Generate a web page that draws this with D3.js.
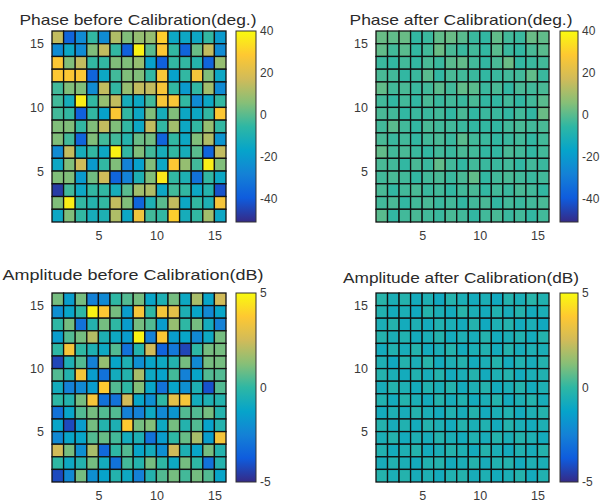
<!DOCTYPE html>
<html>
<head>
<meta charset="utf-8">
<script src="https://cdn.jsdelivr.net/npm/d3@7"></script>
<style>
  body { margin: 0; background: #fff; }
  text { font-family: "Liberation Sans", Arial, sans-serif; }
</style>
</head>
<body>
<div id="viz"></div>
<script>
var width = 610;
var height = 504;

// grid axis ticks (pcolor: 16x16 grid -> 15x15 visible cells)
var gridTicks = [5, 10, 15];
var phaseTicks = [-40, -20, 0, 20, 40];
var ampTicks = [-5, 0, 5];
var phaseRange = [-51, 40];
var ampRange = [-5, 5];

var titles = [
  'Phase before Calibration(deg.)',
  'Phase after Calibration(deg.)',
  'Amplitude before Calibration(dB)',
  'Amplitude after Calibration(dB)'
];

// rows listed from the top (y = 15) down to y = 1
var phaseBefore = [
  [15, -37, -25, -5, -25, 12, 5, 8, 8, 30, -15, -15, -15, -5, -20],
  [-25, -15, -25, 5, 15, -5, -38, 38, 0, 28, -5, -37, 2, 15, -25],
  [28, 5, 15, -5, -5, 5, 5, 8, -18, -38, -5, -5, -8, -37, 8],
  [28, 28, 28, -37, -15, -3, 5, 5, -5, 27, -18, -5, 26, 5, -15],
  [-3, 5, 5, -25, 15, -5, 8, 15, 15, 27, -5, -20, -5, 10, -25],
  [-3, -12, 37, -5, 8, 15, -12, -15, -3, 27, 27, -5, -25, -15, -5],
  [-3, -5, -38, -5, -18, 28, -5, -15, 5, -12, 5, -15, -15, -5, 28],
  [5, 5, -5, 5, 15, 5, -5, -15, 15, -5, 10, -15, -5, 8, -5],
  [5, -3, -37, 5, -3, -3, -8, 2, 3, -37, -5, -15, 5, 12, -22],
  [-25, 15, -12, -5, -15, 38, -5, 5, -3, -12, -5, -12, 0, -37, 15],
  [-15, 5, 17, -20, -5, 5, -28, -18, 5, -15, 28, 8, -3, 37, 5],
  [5, 5, -20, 3, 17, -37, -28, -10, 5, 36, -5, -10, -33, -5, -15],
  [-47, -3, -15, -5, -5, -12, 0, 10, 12, -15, -3, -5, -15, -8, -42],
  [5, 37, -5, -8, -5, 15, 5, -37, -10, 0, 15, -15, -5, -10, 26],
  [-15, 5, -5, -12, -10, 12, -15, 25, -3, -5, 30, -12, -5, 10, -15]
];

var phaseAfter = [
  [2, 1, 2, -5, -4, 1, 2, 0, -4, -5, 1, -3, -4, 2, 1],
  [1, -3, 0, -5, -3, 2, -2, -4, -3, -5, 0, -4, -5, -2, 0],
  [-4, -5, -3, -5, -2, -4, 0, 1, -3, -5, -2, 2, -5, -4, -3],
  [-2, -3, -5, -4, 0, -5, -2, -3, -4, -5, -4, -3, -3, 1, -4],
  [1, -3, -2, -4, -3, 0, -3, 1, 0, -4, -2, -5, -2, -3, -2],
  [-3, -5, -3, -5, -2, -4, -3, -4, -2, -5, -5, -3, -5, -3, 0],
  [-2, -3, -5, -4, -4, -3, -5, -2, -5, -4, -4, -5, -3, -5, 2],
  [-3, 0, -3, -5, -2, -3, -3, -4, -5, -5, -5, -3, -2, -3, -2],
  [-2, -4, -3, -5, -3, -2, -4, 0, -3, -4, -5, -4, -3, -5, -3],
  [1, -3, -2, -4, -5, -3, -4, -2, -3, -5, -5, -2, -3, -5, -3],
  [-2, -3, -5, -2, -4, 1, -3, -5, -3, -4, -4, -3, -5, -3, -4],
  [-3, -2, -3, -5, -3, -2, -4, -2, 1, -5, -3, -2, -3, -4, -3],
  [-2, -5, -3, -2, -4, -3, -5, -3, -2, -5, -3, -4, -2, -3, -5],
  [-3, -2, -5, -3, -2, -4, -3, -5, -3, -2, -5, -3, -4, -3, -2],
  [0, -5, -3, -2, -3, -4, -2, -3, -5, -3, -2, -4, -3, -5, -3]
];

var ampBefore = [
  [1, -1.5, 1, -2.5, -2.2, 0, 0.5, 1, -1.2, -0.5, 1, -1, 1.8, -1.2, 2.5],
  [-2, -1.2, 0, 4.8, 3.7, 1, -1.5, 3.5, 0, 3.5, 3, -0.5, -1.2, -2.2, -1.2],
  [0, 1, -3, -0.3, 1, 0, -1.5, 1, 0.5, -1.5, 1.5, 0, 1, -0.8, -2.5],
  [-1.5, 0.5, 1, 2, -0.5, -1, -1.5, 4.8, -2.5, 3.7, -1.5, -1.2, -2.2, -1, 1],
  [0, 3.5, 0, -0.5, -1, 0.5, -3, -0.3, 2.5, -3.5, -2.8, -4.3, 0, 1, 1],
  [-4.3, -0.5, 0.5, -2.5, 1.5, -1.2, -0.5, -2, -1.2, -1, -0.3, 1, -2.2, 1, 1],
  [0.5, -0.3, 3.5, -1.5, -3, -0.8, -0.3, 1.8, -1, -1.3, 0.3, -2.5, -1.2, 0.5, 0.5],
  [-0.8, -2.5, -2.2, -1.5, 3.8, 0.5, 0, 1.2, -1.2, -3, -1.2, -2, -0.5, -4, 0.5],
  [0, -0.3, 1, 3.5, -3, -3, 2.5, -1.2, -2, 0, 3, 3.5, -0.8, -0.5, -0.3],
  [-3, -1.2, 0.5, 1, 0.5, 0.5, -2.5, -2.5, -1, -2.2, -1.8, 0.5, 0.5, 1, -0.3],
  [-1.2, -4.2, -1.5, 1, -0.3, -0.5, 3.8, 1, 1.2, -1, 1, -0.3, 0.5, -1.3, -0.3],
  [-2.2, -1.2, -1.2, 0.5, 0.8, 0.3, -0.8, -0.5, -3, -1.5, 0, 0.8, 1.8, -1.5, 3.5],
  [2.5, 1, -2, 1.8, -3.3, 0, 0.5, -1.2, -0.8, -2, 2.5, -0.5, -1.2, 1, -0.3],
  [0, -1, -0.3, 1, -0.8, -3, 0.3, -0.3, 1, 0, -1, 1, 0, -3, -0.3],
  [-4.2, -2.2, 1, -2, -1.3, -0.3, -1, -2.5, -0.3, 0.5, 1, 0.3, 1, 0.5, -1.2]
];

var ampAfter = [
  [-0.2, -0.6, -0.3, -0.8, -0.5, -0.9, -0.3, -0.6, -0.8, -0.6, -0.9, -0.3, -0.6, -0.2, -0.4],
  [-0.4, -0.8, -0.6, -0.9, -0.3, -0.6, -0.8, -0.2, -0.6, -0.8, -0.4, -0.7, -0.3, -0.8, -0.6],
  [-0.6, -0.3, -0.8, -0.5, -0.8, -0.4, -0.6, -0.8, -0.3, -0.9, -0.5, -0.3, -0.8, -0.6, -0.9],
  [-0.3, -0.6, -0.4, -0.8, -0.6, -0.3, -0.8, -0.5, -0.7, -0.3, -0.8, -0.6, -0.4, -0.8, -0.3],
  [-0.8, -0.4, -0.7, -0.3, -0.8, -0.6, -0.3, -0.8, -0.6, -0.4, -0.8, -0.3, -0.7, -0.5, -0.6],
  [-0.5, -0.9, -0.3, -0.6, -0.2, -0.8, -0.5, -0.3, -0.8, -0.6, -0.3, -0.8, -0.4, -0.7, -0.3],
  [-0.3, -0.6, -0.8, -0.4, -0.7, -0.3, -0.8, -0.6, -0.3, -0.8, -0.5, -0.3, -0.8, -0.6, -0.4],
  [-0.7, -0.3, -0.5, -0.8, -0.4, -0.6, -0.3, -0.8, -0.5, -0.3, -0.8, -0.6, -0.3, -0.8, -0.5],
  [-0.4, -0.8, -0.3, -0.6, -0.8, -0.3, -0.7, -0.4, -0.8, -0.6, -0.3, -0.8, -0.5, -0.3, -0.7],
  [-0.8, -0.5, -0.7, -0.3, -0.6, -0.8, -0.4, -0.7, -0.3, -0.8, -0.6, -0.4, -0.8, -0.5, -0.3],
  [-0.3, -0.7, -0.4, -0.8, -0.3, -0.5, -0.8, -0.3, -0.6, -0.4, -0.8, -0.3, -0.6, -0.8, -0.5],
  [-0.6, -0.3, -0.8, -0.5, -0.7, -0.3, -0.6, -0.8, -0.4, -0.7, -0.3, -0.6, -0.3, -0.5, -0.8],
  [-0.4, -0.8, -0.5, -0.3, -0.8, -0.6, -0.3, -0.5, -0.8, -0.3, -0.6, -0.8, -0.4, -0.7, -0.3],
  [-0.7, -0.4, -0.6, -0.8, -0.4, -0.3, -0.8, -0.6, -0.3, -0.7, -0.4, -0.3, -0.8, -0.5, -0.6],
  [-0.3, -0.6, -0.3, -0.7, -0.5, -0.8, -0.4, -0.3, -0.7, -0.5, -0.8, -0.6, -0.3, -0.8, -0.4]
];

// parula colormap stops
var parula = ['#352a87', '#0f5cdd', '#1481d6', '#06a4ca', '#2eb7a4', '#87bf77', '#d1bb59', '#fec832', '#f9fb0e'];

var svg = d3.select('#viz').append('svg')
  .attr('width', width)
  .attr('height', height)
  .style('background', '#fff');

var defs = svg.append('defs');

var panels = [
  {title: titles[0], data: phaseBefore, range: phaseRange, cticks: phaseTicks,
   x0: 52, x1: 226, y0: 31, y1: 222, cb: 236, cbw: 20, tx: 138, ty: 25, tw: 237},
  {title: titles[1], data: phaseAfter, range: phaseRange, cticks: phaseTicks,
   x0: 376, x1: 549, y0: 31, y1: 222, cb: 560, cbw: 18, tx: 461, ty: 25, tw: 223},
  {title: titles[2], data: ampBefore, range: ampRange, cticks: ampTicks,
   x0: 52, x1: 226, y0: 293, y1: 482, cb: 236, cbw: 20, tx: 133, ty: 280, tw: 261},
  {title: titles[3], data: ampAfter, range: ampRange, cticks: ampTicks,
   x0: 376, x1: 549, y0: 293, y1: 482, cb: 560, cbw: 18, tx: 461, ty: 283, tw: 236}
];

// plain hyphen minus, like the original figure
var plainFmt = function(d) { return String(d); };

function drawPanel(p, idx) {
  var x = d3.scaleLinear().domain([1, 16]).range([p.x0, p.x1]);
  var y = d3.scaleLinear().domain([1, 16]).range([p.y1, p.y0]);
  var lo = p.range[0], hi = p.range[1];
  var color = d3.scaleLinear()
    .domain(parula.map(function(d, i) { return lo + (hi - lo) * i / (parula.length - 1); }))
    .range(parula)
    .clamp(true);

  var g = svg.append('g').attr('class', 'panel');

  var cells = [];
  p.data.forEach(function(row, i) {
    row.forEach(function(v, j) {
      cells.push({col: j + 1, row: 15 - i, v: v});
    });
  });

  g.selectAll('rect.cell').data(cells)
    .enter().append('rect')
    .attr('class', 'cell')
    .attr('x', function(d) { return x(d.col); })
    .attr('y', function(d) { return y(d.row + 1); })
    .attr('width', function(d) { return x(d.col + 1) - x(d.col); })
    .attr('height', function(d) { return y(d.row) - y(d.row + 1); })
    .attr('fill', function(d) { return color(d.v); })
    .attr('stroke', '#111')
    .attr('stroke-width', 1.3);

  var xa = g.append('g')
    .attr('transform', 'translate(0,' + p.y1 + ')')
    .call(d3.axisBottom(x).tickValues(gridTicks).tickFormat(plainFmt).tickSize(0).tickPadding(9));
  var ya = g.append('g')
    .attr('transform', 'translate(' + p.x0 + ',0)')
    .call(d3.axisLeft(y).tickValues(gridTicks).tickFormat(plainFmt).tickSize(0).tickPadding(8));
  [xa, ya].forEach(function(a) {
    a.select('.domain').remove();
    a.selectAll('text').attr('font-size', 12.5).attr('fill', '#3a3a3a')
      .style('font-family', '"Liberation Sans", Arial, sans-serif');
  });

  // colorbar
  var cy = d3.scaleLinear().domain(p.range).range([p.y1, p.y0]);
  var gid = 'grad' + idx;
  var grad = defs.append('linearGradient').attr('id', gid)
    .attr('x1', 0).attr('y1', 1).attr('x2', 0).attr('y2', 0);
  grad.selectAll('stop').data(parula)
    .enter().append('stop')
    .attr('offset', function(d, i) { return i / (parula.length - 1); })
    .attr('stop-color', function(d) { return d; });

  g.append('rect')
    .attr('x', p.cb).attr('y', p.y0)
    .attr('width', p.cbw).attr('height', p.y1 - p.y0)
    .attr('fill', 'url(#' + gid + ')')
    .attr('stroke', '#333').attr('stroke-width', 1);

  var ca = g.append('g')
    .attr('transform', 'translate(' + (p.cb + p.cbw) + ',0)')
    .call(d3.axisRight(cy).tickValues(p.cticks).tickFormat(plainFmt).tickSize(0).tickPadding(4));
  ca.select('.domain').remove();
  ca.selectAll('text').attr('font-size', 12).attr('fill', '#3a3a3a')
    .style('font-family', '"Liberation Sans", Arial, sans-serif');

  g.append('text')
    .attr('x', p.tx).attr('y', p.ty)
    .attr('text-anchor', 'middle')
    .attr('font-size', 15)
    .attr('fill', '#2a2a2a')
    .attr('textLength', p.tw)
    .attr('lengthAdjust', 'spacingAndGlyphs')
    .text(p.title);
}

panels.forEach(drawPanel);
</script>
</body>
</html>
